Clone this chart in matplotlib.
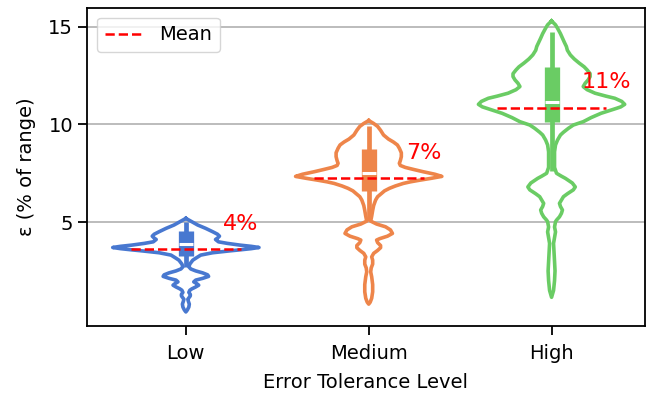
import numpy as np
import matplotlib
matplotlib.use("Agg")
import matplotlib.pyplot as plt

# Categories and palette
categories = ["Low", "Medium", "High"]
colors = ["#4878d0", "#ee854a", "#6acc64"]

# Density profiles: (value, relative density) pairs for each tolerance level
low_y = [5.19, 5.02, 4.85, 4.68, 4.51, 4.38, 4.28, 4.18, 4.11, 3.99, 3.91, 3.82,
         3.76, 3.70, 3.64, 3.58, 3.53, 3.43, 3.31, 3.15, 3.05, 2.85, 2.71, 2.60,
         2.50, 2.40, 2.30, 2.22, 2.12, 2.03, 1.94, 1.85, 1.77, 1.68, 1.58, 1.51,
         1.40, 1.30, 1.22, 1.12, 1.05, 0.95, 0.80, 0.65, 0.50, 0.40]
low_d = [0, 6, 12, 20, 27, 32, 34, 32, 30, 33, 42, 55,
         66, 74, 66, 55, 45, 27, 15, 10, 7, 4, 3, 5,
         10, 17, 22, 23, 17, 10, 8, 11, 13, 10, 6, 4,
         3, 4.5, 4.5, 3, 2, 2.5, 3.5, 3, 1.5, 0]

med_y = [10.20, 10.05, 9.90, 9.70, 9.46, 9.25, 9.10, 8.95, 8.78, 8.55, 8.35, 8.15,
         8.01, 7.90, 7.80, 7.70, 7.58, 7.45, 7.34, 7.24, 7.15, 7.06, 6.98, 6.85,
         6.73, 6.60, 6.47, 6.30, 6.13, 5.85, 5.60, 5.30, 5.05, 4.90, 4.76, 4.60,
         4.42, 4.28, 4.15, 4.08, 3.95, 3.80, 3.69, 3.55, 3.40, 3.22, 3.05, 2.85,
         2.65, 2.45, 2.20, 1.80, 1.43, 1.10, 0.90, 0.80]
med_d = [0, 5, 9, 12, 15, 20, 25, 29, 31, 33, 33, 32,
         31, 32, 37, 45, 55, 67, 74, 63, 52, 42, 35, 27,
         21, 16, 13, 9, 7, 5, 4, 3, 2, 8, 17, 22,
         24, 19, 11, 8, 9, 12, 12, 9, 5, 3, 4, 4,
         2.5, 2, 3, 4, 4, 3, 1.5, 0]

high_y = [15.30, 15.10, 14.93, 14.65, 14.42, 14.20, 13.99, 13.80, 13.56, 13.35, 13.14, 12.95,
          12.79, 12.60, 12.45, 12.28, 12.11, 11.94, 11.78, 11.60, 11.45, 11.34, 11.18, 11.03,
          10.90, 10.83, 10.70, 10.57, 10.35, 10.14, 9.97, 9.80, 9.60, 9.46, 9.20, 8.95,
          8.60, 8.27, 7.80, 7.50, 7.35, 7.24, 7.00, 6.80, 6.65, 6.45, 6.30, 5.96,
          5.80, 5.62, 5.45, 5.27, 5.10, 5.02, 4.75, 4.50, 4.20, 3.91, 3.50, 3.00,
          2.50, 2.00, 1.50, 1.15]
high_d = [0, 4, 6, 9, 11, 13, 15, 16, 19, 23, 28, 33,
          36, 39, 39, 37, 34, 32, 36, 44, 55, 64, 71, 74,
          70, 66, 58, 50, 40, 32, 22, 17, 12, 9, 6, 4,
          3, 3, 3, 5, 10, 14, 21, 24, 22, 16, 12, 8,
          9, 11, 10, 8, 5, 4, 3, 4, 3, 2, 2.5, 3,
          3.5, 3, 2, 0]

# Box summary: whisker low, Q1, median, Q3, whisker high
whisker_lo = [2.70, 5.05, 7.60]
q1 = [3.25, 6.60, 10.14]
medians = [3.87, 7.53, 11.14]
q3 = [4.55, 8.73, 12.96]
whisker_hi = [5.02, 9.92, 14.71]

# Mean per level (labelled as percent)
means = [3.62, 7.25, 10.86]

profiles = [(low_y, low_d), (med_y, med_d), (high_y, high_d)]

fig, ax = plt.subplots(figsize=(6.6, 3.93), dpi=100)
fig.subplots_adjust(left=0.132, right=0.977, top=0.980, bottom=0.170)

half_width = 0.4
for i, ((ys, ds), col) in enumerate(zip(profiles, colors)):
    ys = np.asarray(ys)
    ds = np.asarray(ds, dtype=float)
    w = ds / ds.max() * half_width
    xs = np.concatenate([i + w, (i - w)[::-1]])
    yy = np.concatenate([ys, ys[::-1]])
    ax.plot(xs, yy, color=col, lw=2.6, solid_joinstyle="round", zorder=3)
    # inner box
    ax.plot([i, i], [whisker_lo[i], whisker_hi[i]], color=col, lw=3.4,
            solid_capstyle="butt", zorder=3)
    ax.plot([i, i], [q1[i], q3[i]], color=col, lw=11,
            solid_capstyle="butt", zorder=3)
    ax.plot([i], [medians[i]], marker="_", color="white", markersize=10,
            mew=2.2, zorder=4)

for i, m in enumerate(means):
    ax.plot([i - 0.3, i + 0.3], [m, m], color="red", ls="--", lw=1.8,
            zorder=5, label="Mean" if i == 0 else None)
    ax.text(i + 0.3, m + 1.0, f"{m:.0f}%", color="red", fontsize=16,
            ha="center", va="baseline", zorder=6)

ax.set_xlim(-0.54, 2.51)
ax.set_ylim(-0.33, 15.97)
ax.set_xticks(range(len(categories)))
ax.set_xticklabels(categories)
ax.set_yticks([5, 10, 15])
ax.yaxis.grid(True, color="#b0b0b0", lw=1.2, zorder=0)
ax.set_axisbelow(True)
ax.tick_params(labelsize=14, length=6.5, width=1.3)
ax.tick_params(axis="x", pad=6.5)
for sp in ax.spines.values():
    sp.set_linewidth(1.3)
ax.set_xlabel("Error Tolerance Level", fontsize=14, labelpad=7)
ax.set_ylabel("ε (% of range)", fontsize=14, labelpad=9)
ax.legend(loc="upper left", fontsize=14, handlelength=2.0)

fig.savefig("out.png", dpi=100)
